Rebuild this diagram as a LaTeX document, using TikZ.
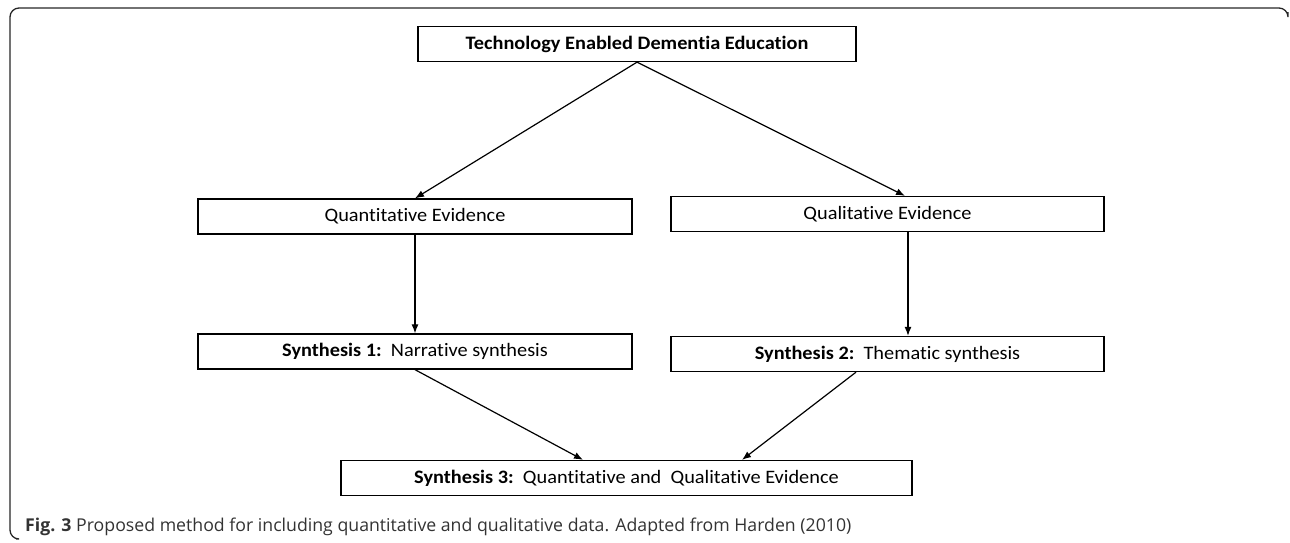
\documentclass[tikz,border=0pt]{standalone}
\usepackage{fontspec}
\setmainfont{Open Sans}
\newfontfamily\boxfont[FakeStretch=1.07, Ligatures=NoCommon]{Carlito}
\usetikzlibrary{arrows.meta}
\tikzset{
	box/.style={draw, line width=1.3pt, inner sep=0pt, minimum height=35pt, font=\boxfont\fontsize{19}{21}\selectfont},
	link/.style={-{Latex[length=9pt,width=7pt]}, line width=1.2pt}
}
\begin{document}
\begin{tikzpicture}[x=1pt, y=-1pt]
		\useasboundingbox (0,0) rectangle (1290,542);
		\draw[line width=1.3pt, rounded corners=9pt, black!85] (1288,12)--(1288,8)--(10,8)--(10,539)--(16,539);

		\node[box, minimum width=438pt] (tech) at (637,44) {\textbf{Technology Enabled Dementia Education}};
		\node[box, minimum width=434pt] (quant) at (415,216.5) {Quantitative Evidence};
		\node[box, minimum width=433pt] (qual) at (887.5,214) {Qualitative Evidence};
		\node[box, minimum width=434pt] (synA) at (415,351.5) {\textbf{Synthesis 1:}\ \ Narrative synthesis};
		\node[box, minimum width=433pt] (synB) at (887.5,354) {\textbf{Synthesis 2:}\ \ Thematic synthesis};
		\node[box, minimum width=571pt] (synC) at (626.5,478) {\textbf{Synthesis 3:}\ \ Quantitative and\ \ Qualitative Evidence};

		\draw[link] (tech.south)--(quant.north);
		\draw[link] (tech.south)--([xshift=17.5pt]qual.north);
		\draw[link] (quant.south)--(synA.north);
		\draw[link] ([xshift=20.5pt]qual.south)--([xshift=20.5pt]synB.north);
		\draw[link] (synA.south)--([xshift=-43.5pt]synC.north);
		\draw[link] ([xshift=-31.5pt]synB.south)--([xshift=115.5pt]synC.north);

		\node[anchor=base west, inner sep=0pt, font=\fontsize{17.7}{20}\selectfont, text=black!80] (cap) at (25,531) {\textbf{Fig. 3} Proposed method for including quantitative and qualitative data. Adapted from Harden (2010)};
\end{tikzpicture}
\end{document}
